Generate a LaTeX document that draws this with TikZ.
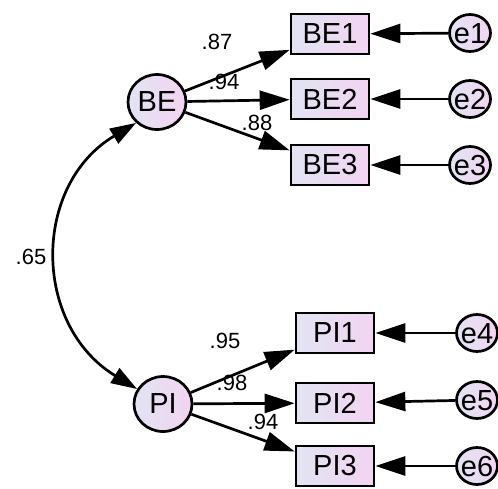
\documentclass[tikz,border=0pt]{standalone}
\usepackage{fontspec}
\setmainfont{Liberation Sans}
\usetikzlibrary{arrows.meta,shapes.geometric}
\definecolor{fillL}{RGB}{226,228,242}
\definecolor{fillR}{RGB}{242,212,242}
\tikzset{
  base/.style={draw=black, line width=2.7pt, left color=fillL, right color=fillR, inner sep=0pt},
  lat/.style={base, ellipse, minimum width=58pt, minimum height=55pt, font=\fontsize{29}{29}\selectfont},
  obs/.style={base, rectangle, minimum width=78pt, minimum height=40pt, font=\fontsize{29}{29}\selectfont},
  err/.style={base, ellipse, minimum width=41pt, minimum height=37pt, text height=20.5pt, text depth=0pt, font=\fontsize{29}{29}\selectfont},
  arr/.style={line width=2.7pt, -{Triangle[length=30pt,width=19pt]}},
  lbl/.style={font=\fontsize{22}{22}\selectfont, inner sep=0pt},
}
\begin{document}
\begin{tikzpicture}[x=1pt,y=-1pt]
\useasboundingbox (0,0) rectangle (498,488);
\node[lat] (BE) at (157,102) {BE};
\node[lat] (PI) at (163,404) {PI};
\node[obs] (BE1) at (330,34) {BE1};
\node[obs] (BE2) at (330,99) {BE2};
\node[obs] (BE3) at (330,165) {BE3};
\node[obs] (PI1) at (335,333) {PI1};
\node[obs] (PI2) at (335,403) {PI2};
\node[obs] (PI3) at (335,466) {PI3};
\node[err] (e1) at (470,33) {\makebox[0pt][c]{e1}};
\node[err] (e2) at (470,99) {\makebox[0pt][c]{e2}};
\node[err] (e3) at (470,165) {\makebox[0pt][c]{e3}};
\node[err] (e4) at (477,333) {\makebox[0pt][c]{e4}};
\node[err] (e5) at (477,400) {\makebox[0pt][c]{e5}};
\node[err] (e6) at (477,466) {\makebox[0pt][c]{e6}};
\foreach \a/\b in {BE/BE1,BE/BE2,BE/BE3,PI/PI1,PI/PI2,PI/PI3,e1/BE1,e2/BE2,e3/BE3,e4/PI1,e5/PI2,e6/PI3}
  \draw[arr] (\a) -- (\b);
\draw[line width=2.7pt, {Triangle[length=26pt,width=17pt]}-{Triangle[length=26pt,width=17pt]}]
  (BE.225) .. controls (32,185) and (32,325) .. (PI.150);
\node[lbl] (l65) at (31,257) {.65};
\node[lbl] (l87) at (217,42) {.87};
\node[lbl] (l94a) at (224,82) {.94};
\node[lbl] (l88) at (257,123) {.88};
\node[lbl] (l95) at (225,341) {.95};
\node[lbl] (l98) at (232,383) {.98};
\node[lbl] (l94b) at (263,422) {.94};
\end{tikzpicture}
\end{document}
